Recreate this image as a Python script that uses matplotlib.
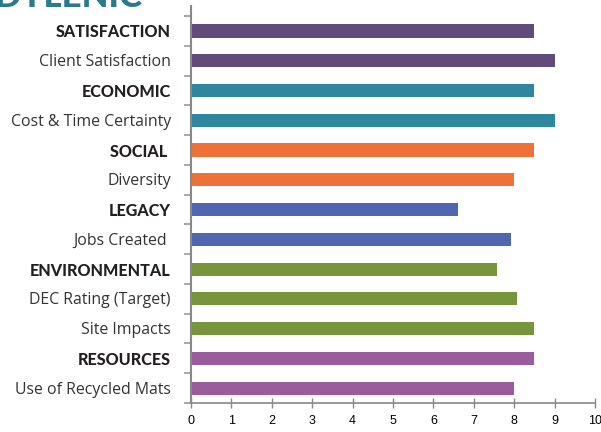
import matplotlib.pyplot as plt
import numpy as np

labels = [
    "SATISFACTION", "Client Satisfaction",
    "ECONOMIC", "Cost & Time Certainty",
    "SOCIAL ", "Diversity",
    "LEGACY", "Jobs Created ",
    "ENVIRONMENTAL", "DEC Rating (Target)", "Site Impacts",
    "RESOURCES", "Use of Recycled Mats",
]
values = [8.5, 9.0, 8.5, 9.0, 8.5, 8.0, 6.6, 7.92, 7.57, 8.07, 8.5, 8.5, 8.0]
is_header = [True, False, True, False, True, False, True, False, True, False, False, True, False]
colors = [
    "#614b7b", "#614b7b",
    "#2e879e", "#2e879e",
    "#ee7238", "#ee7238",
    "#4e67b0", "#4e67b0",
    "#77953a", "#77953a", "#77953a",
    "#9b5c9e", "#9b5c9e",
]

fig = plt.figure(figsize=(6.01, 4.32), dpi=100)
ax = fig.add_axes([0.3178, 0.0671, 0.6722, 0.9190])

y = np.arange(len(labels))
ax.barh(y, values, height=0.44, color=colors)

ax.set_xlim(0, 10)
ax.set_ylim(len(labels) - 0.5, -0.84)
ax.set_xticks(np.arange(0, 11, 1))
ax.tick_params(axis="x", direction="inout", length=7, width=1, color="#888888",
               labelsize=9, pad=5)
for t in ax.get_xticklabels():
    t.set_family("Liberation Sans")

ax.set_yticks(np.arange(-0.5, len(labels), 1))
ax.set_yticklabels([])
ax.tick_params(axis="y", direction="out", length=5, width=1.2, color="#999999")

for yi, lab, hd in zip(y, labels, is_header):
    ax.text(-0.5, yi + 0.05, lab, ha="right", va="center",
            fontsize=11.6 if hd else 11.4,
            fontweight="black" if hd else "normal",
            family="Lato" if hd else "Open Sans",
            color="#231f20" if hd else "#333333",
            clip_on=False)

for side in ["top", "right"]:
    ax.spines[side].set_visible(False)
ax.spines["left"].set_color("#888888")
ax.spines["left"].set_linewidth(1.5)
ax.spines["bottom"].set_color("#888888")
ax.spines["bottom"].set_linewidth(1.2)

# clipped title remnant at the top
fig.text(-0.01, 1.008, "DYLENIC", ha="left", va="center", fontsize=25,
         fontweight="black", family="Lato", color="#2a7a8c")

fig.savefig("out.png", dpi=100)
